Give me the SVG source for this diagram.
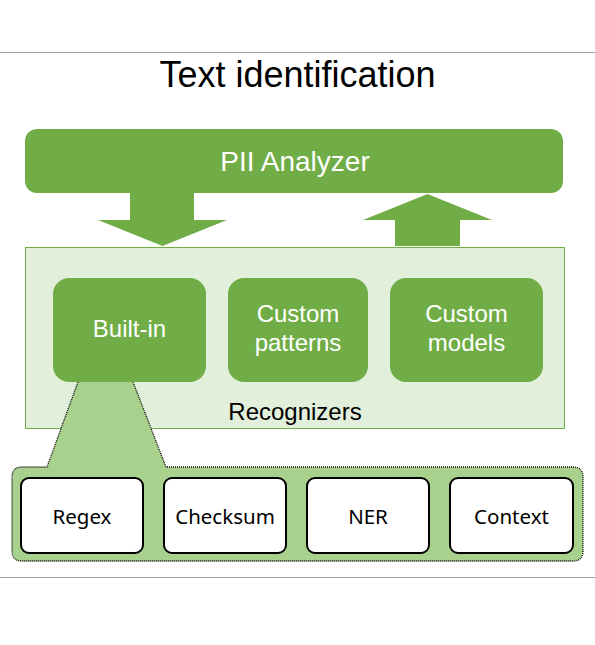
<svg xmlns="http://www.w3.org/2000/svg" width="595" height="645" viewBox="0 0 595 645">
<style>
.sans{font-family:"Liberation Sans",Arial,sans-serif}
.wt{fill:#fff;font-size:24px;text-anchor:middle}
.green{fill:#70ad47}
.inner{fill:#fff;stroke:#000;stroke-width:2}
.lbl{font-family:"Noto Sans","Open Sans",sans-serif;font-size:20.5px;text-anchor:middle;fill:#000}
</style>
<rect width="595" height="645" fill="#fff"/>
<line x1="0" y1="52.5" x2="595" y2="52.5" stroke="#a0a0a0" stroke-width="1"/>
<line x1="0" y1="577.5" x2="595" y2="577.5" stroke="#a0a0a0" stroke-width="1"/>
<text x="297.5" y="87" class="sans" style="font-size:36px" text-anchor="middle" fill="#000">Text identification</text>

<g id="pii-analyzer">
<rect x="25" y="129" width="538" height="64" rx="12" class="green"/>
<text x="295" y="171" class="sans wt" style="font-size:28px">PII Analyzer</text>
</g>

<g id="connectors">
<polygon class="green" points="130,192 194,192 194,220 227,220 162.5,246 98,220 130,220"/>
<polygon class="green" points="395,246 460,246 460,220 492,220 427.5,194 363,220 395,220"/>
</g>

<g id="recognizers">
<rect x="25.5" y="247.5" width="539" height="181" fill="#e2efda" stroke="#70ad47" stroke-width="1"/>
<text x="295" y="420" class="sans" style="font-size:24px" text-anchor="middle" fill="#000">Recognizers</text>
</g>

<g id="builtin-group">
<path d="M78,382 L47,467 L22,467 Q12,467 12,477 L12,551 Q12,561 22,561 L573,561 Q583,561 583,551 L583,477 Q583,467 573,467 L166,467 L133,382 Z" fill="#a9d18e" stroke="none"/>
<path d="M78,382 L47,467 L22,467 Q12,467 12,477 L12,551 Q12,561 22,561 L573,561 Q583,561 583,551 L583,477 Q583,467 573,467 L166,467 L133,382" fill="none" stroke="#000" stroke-width="1.3" stroke-dasharray="1 1"/>
</g>

<g id="built-in">
<rect x="53" y="278" width="153" height="104" rx="16" class="green"/>
<text x="129.5" y="337" class="sans wt">Built-in</text>
</g>
<g id="custom-patterns">
<rect x="228" y="278" width="140" height="104" rx="16" class="green"/>
<text x="298" y="322" class="sans wt">Custom</text>
<text x="298" y="351" class="sans wt">patterns</text>
</g>
<g id="custom-models">
<rect x="390" y="278" width="153" height="104" rx="16" class="green"/>
<text x="466.5" y="322" class="sans wt">Custom</text>
<text x="466.5" y="351" class="sans wt">models</text>
</g>

<g id="regex">
<rect x="21" y="478" width="122" height="75" rx="8" class="inner"/>
<text x="82" y="524" class="lbl">Regex</text>
</g>
<g id="checksum">
<rect x="164" y="478" width="122" height="75" rx="8" class="inner"/>
<text x="225" y="524" class="lbl">Checksum</text>
</g>
<g id="ner">
<rect x="307" y="478" width="122" height="75" rx="8" class="inner"/>
<text x="368" y="524" class="lbl">NER</text>
</g>
<g id="context">
<rect x="450" y="478" width="123" height="75" rx="8" class="inner"/>
<text x="511.5" y="524" class="lbl">Context</text>
</g>
</svg>
